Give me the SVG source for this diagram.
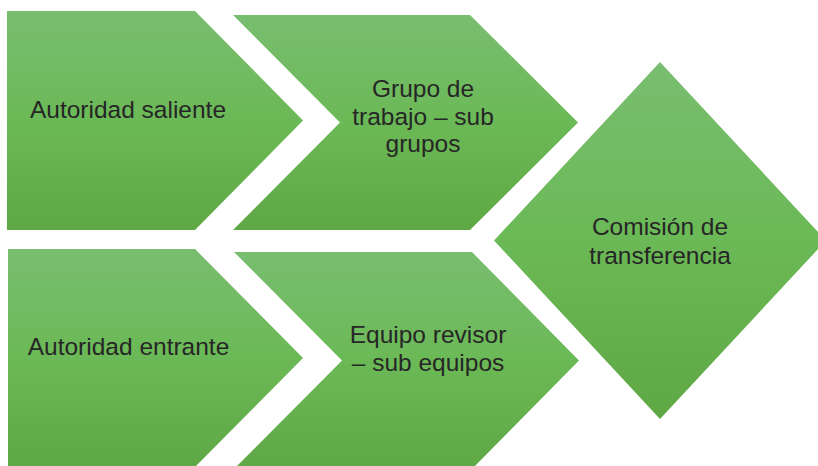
<svg xmlns="http://www.w3.org/2000/svg" width="818" height="466" viewBox="0 0 818 466">
<defs>
<linearGradient id="g" x1="0" y1="0" x2="0" y2="1">
<stop offset="0" stop-color="#79bd70"/>
<stop offset="0.5" stop-color="#6bb956"/>
<stop offset="1" stop-color="#5ea845"/>
</linearGradient>
<style>
.s{fill:url(#g);}
.t{font-family:"Liberation Sans",Arial,sans-serif;font-size:24.5px;fill:#262626;text-anchor:middle;}
</style>
</defs>
<rect width="818" height="466" fill="#ffffff"/>
<g id="autoridad-saliente">
<polygon class="s" points="7,11 195,11 303,120.5 195,230 7,230"/>
<text class="t" x="128" y="118">Autoridad saliente</text>
</g>
<g id="grupo-trabajo">
<polygon class="s" points="233,15 470,15 578,122.5 470,230 233,230 340,122.5"/>
<text class="t" x="423" y="97">Grupo de</text>
<text class="t" x="423" y="124.5">trabajo – sub</text>
<text class="t" x="423" y="152">grupos</text>
</g>
<g id="comision-transferencia">
<polygon class="s" points="660,62 826,240.5 660,419 494,240.5"/>
<text class="t" x="660" y="235">Comisión de</text>
<text class="t" x="660" y="264">transferencia</text>
</g>
<g id="autoridad-entrante">
<polygon class="s" points="8,249 195,249 303,358 195,467 8,467"/>
<text class="t" x="128.5" y="355">Autoridad entrante</text>
</g>
<g id="equipo-revisor">
<polygon class="s" points="234,252 472,252 579,360.5 472,469 234,469 342,360.5"/>
<text class="t" x="428" y="343">Equipo revisor</text>
<text class="t" x="428" y="371">– sub equipos</text>
</g>
<g id="connectors"/>
</svg>
